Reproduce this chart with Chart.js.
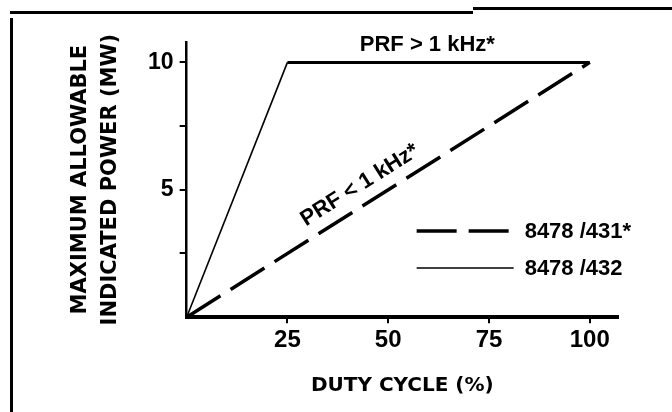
<!DOCTYPE html>
<html>
<head>
<meta charset="utf-8">
<script src="https://cdn.jsdelivr.net/npm/chart.js@4"></script>
<style>
  body { margin: 0; background: #fff; }
  #wrap { position: relative; width: 672px; height: 412px; overflow: hidden; }
  .rule { position: absolute; background: #000; }
</style>
</head>
<body>
<div id="wrap">
  <div class="rule" style="left:10px; top:11px; width:463px; height:3px;"></div>
  <div class="rule" style="left:473px; top:7px; width:199px; height:3px;"></div>
  <div class="rule" style="left:10px; top:18px; width:3px; height:394px;"></div>
  <canvas id="dutyChart" width="672" height="412"></canvas>
</div>
<script>
// data
const duty431 = [0, 100];
const power431 = [0, 10];
const duty432 = [0, 25, 100];
const power432 = [0, 10, 10];
const seriesLabels = ['8478 /431*', '8478 /432'];
const xTickLabels = [25, 50, 75, 100];
const yTickLabels = [5, 10];
const notes = ['PRF > 1 kHz*', 'PRF < 1 kHz*'];

const INK = '#000';
const NARROW = 'Liberation Sans Narrow, Liberation Sans, Arial, sans-serif';
Chart.defaults.font.family = 'Liberation Sans, Arial, sans-serif';
Chart.defaults.color = INK;

// legend + notes drawn inside the plot
const inlineLegend = {
  id: 'inlineLegend',
  afterDraw(chart) {
    const { ctx, chartArea, scales: { x, y } } = chart;
    ctx.save();
    ctx.fillStyle = INK;
    ctx.textBaseline = 'middle';

    // legend rows
    const rows = [chartArea.top + 189, chartArea.top + 226];
    const x0 = chartArea.left + 230, x1 = chartArea.left + 327;
    chart.data.datasets.forEach((ds, i) => {
      ctx.beginPath();
      ctx.strokeStyle = INK;
      ctx.lineWidth = ds.borderWidth;
      ctx.setLineDash(ds.borderDash || []);
      ctx.moveTo(x0, rows[i]);
      ctx.lineTo(x1, rows[i]);
      ctx.stroke();
      ctx.setLineDash([]);
      ctx.font = 'bold 22px Liberation Sans';
      ctx.textAlign = 'left';
      ctx.fillText(ds.label, x1 + 11, rows[i] + 1);
    });

    // note above the flat part
    ctx.font = 'bold 22px Liberation Sans';
    ctx.textAlign = 'center';
    ctx.fillText(notes[0], x.getPixelForValue(59.7), y.getPixelForValue(10) - 17);

    // note along the dashed diagonal
    const ax = x.getPixelForValue(duty431[0]), ay = y.getPixelForValue(power431[0]);
    const bx = x.getPixelForValue(duty431[1]), by = y.getPixelForValue(power431[1]);
    const ang = Math.atan2(by - ay, bx - ax);
    const t = 45.5 / 100;
    const px = ax + (bx - ax) * t + Math.sin(ang) * 19;
    const py = ay + (by - ay) * t - Math.cos(ang) * 19;
    ctx.translate(px, py);
    ctx.rotate(ang);
    ctx.fillText(notes[1], 0, 0);
    ctx.restore();
  }
};

new Chart(document.getElementById('dutyChart'), {
  type: 'line',
  data: {
    datasets: [
      {
        label: seriesLabels[0],
        data: duty431.map((d, i) => ({ x: d, y: power431[i] })),
        borderColor: INK,
        borderWidth: 3.5,
        borderDash: [40, 12],
        pointRadius: 0,
        tension: 0,
        clip: false
      },
      {
        label: seriesLabels[1],
        data: duty432.map((d, i) => ({ x: d, y: power432[i] })),
        borderColor: INK,
        borderWidth: 1.6,
        pointRadius: 0,
        tension: 0,
        clip: false,
        segment: {
          borderWidth: c => (c.p0DataIndex === 0 ? 1.6 : 3)
        }
      }
    ]
  },
  options: {
    responsive: false,
    animation: false,
    devicePixelRatio: 1,
    layout: { padding: { left: 66, top: 42, right: 54, bottom: 10 } },
    plugins: {
      legend: { display: false },
      tooltip: { enabled: false }
    },
    scales: {
      x: {
        type: 'linear',
        min: 0,
        max: 107,
        border: { display: true, color: INK, width: 4 },
        grid: {
          drawOnChartArea: false,
          drawTicks: true,
          tickLength: 6,
          lineWidth: 2,
          color: c => (c.tick && c.tick.value === 0 ? 'rgba(0,0,0,0)' : INK)
        },
        ticks: {
          stepSize: 25,
          includeBounds: false,
          padding: 3,
          maxRotation: 0,
          font: { family: NARROW, size: 24, weight: 'bold' },
          callback: v => (xTickLabels.includes(v) ? String(v) : '')
        },
        title: {
          display: true,
          text: 'DUTY CYCLE (%)',
          font: { family: 'DejaVu Sans', size: 20, weight: 'bold' },
          padding: { top: 16, bottom: 4 }
        }
      },
      y: {
        type: 'linear',
        min: 0,
        max: 10.8,
        border: { display: true, color: INK, width: 2.5 },
        grid: {
          drawOnChartArea: false,
          drawTicks: true,
          tickLength: 7,
          lineWidth: 2,
          color: c => (c.tick && c.tick.value === 0 ? 'rgba(0,0,0,0)' : INK)
        },
        ticks: {
          stepSize: 2.5,
          includeBounds: false,
          padding: 6,
          font: { family: NARROW, size: 23, weight: 'bold' },
          callback: v => (yTickLabels.includes(v) ? String(v) : '')
        },
        title: {
          display: true,
          text: ['MAXIMUM ALLOWABLE', 'INDICATED POWER (MW)'],
          font: { family: 'DejaVu Sans', size: 21, weight: 'bold', lineHeight: 1.43 },
          padding: { top: 0, bottom: 16 }
        }
      }
    }
  },
  plugins: [inlineLegend]
});
</script>
</body>
</html>
